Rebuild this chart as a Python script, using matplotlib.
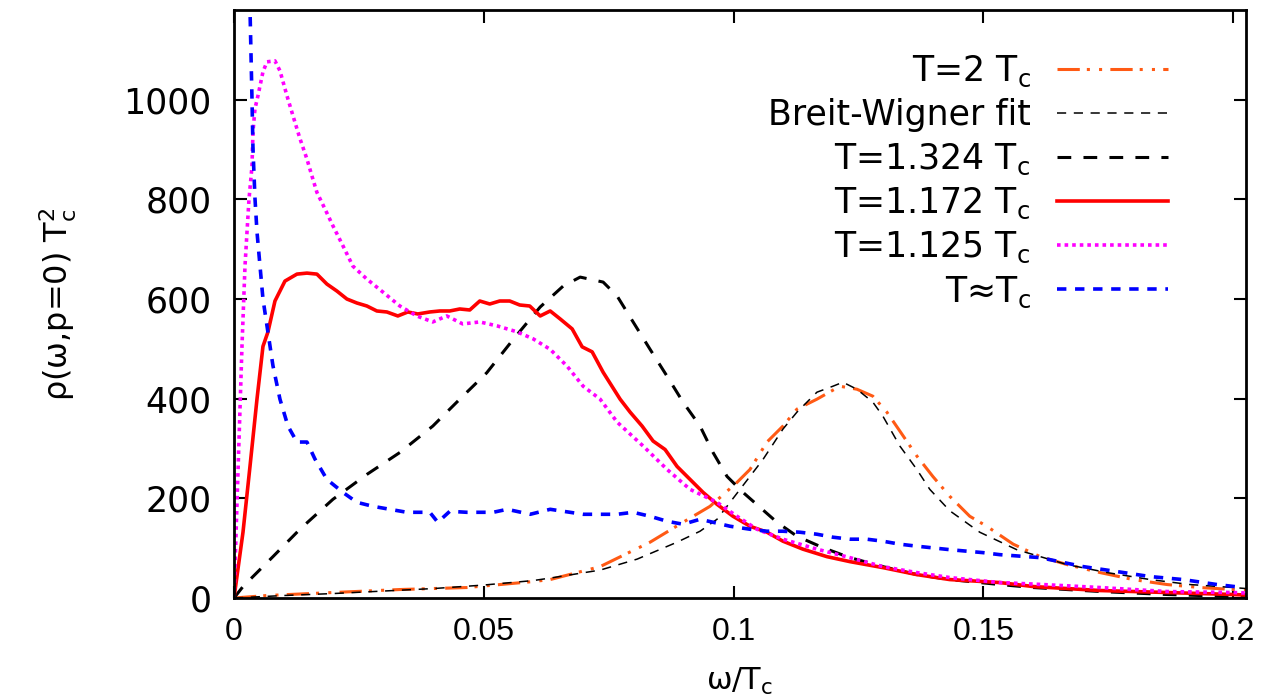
import matplotlib
matplotlib.use('Agg')
import matplotlib.pyplot as plt

# spectral functions (omega/Tc, rho*Tc^2)
w_2tc = [0, 0.0066, 0.0198, 0.0332, 0.0466, 0.0599, 0.0633, 0.0733, 0.0833, 0.0899,
         0.0953, 0.1007, 0.1033, 0.1067, 0.1099, 0.1127, 0.1167, 0.1213, 0.1247, 0.1279,
         0.1307, 0.1333, 0.1367, 0.1399, 0.1433, 0.1473, 0.1507, 0.156, 0.1614, 0.1668,
         0.1734, 0.18, 0.1868, 0.1934, 0.2, 0.2026]
rho_2tc = [0, 5, 11, 17, 21, 33, 37, 63, 112, 152,
           184, 232, 258, 313, 345, 379, 399, 425, 419, 405,
           373, 335, 285, 244, 204, 164, 144, 108, 83, 67,
           51, 37, 27, 21, 17, 16]

w_bw = [0, 0.01, 0.02, 0.03, 0.04, 0.05, 0.0599, 0.0633, 0.0733, 0.0807, 0.0887,
        0.0933, 0.0967, 0.1013, 0.1059, 0.1099, 0.1127, 0.1167, 0.1199, 0.1219,
        0.1247, 0.1279, 0.1299, 0.1333, 0.1367, 0.1393, 0.1433, 0.1493, 0.1567,
        0.1668, 0.1748, 0.1834, 0.1914, 0.2, 0.2026]
rho_bw = [0, 5, 9, 14, 19, 26, 35, 40, 56, 78, 112,
          134, 158, 218, 278, 339, 373, 413, 425, 433,
          419, 393, 365, 305, 258, 218, 175, 132, 97,
          67, 51, 37, 27, 21, 19]

w_1324 = [0, 0.0018, 0.0078, 0.0132, 0.0198, 0.0266, 0.0332, 0.0398, 0.0452, 0.0506,
          0.0559, 0.0613, 0.0659, 0.0693, 0.0739, 0.0767, 0.0799, 0.0833, 0.0867, 0.0899,
          0.0933, 0.0959, 0.0987, 0.1019, 0.1053, 0.1087, 0.1127, 0.1179, 0.1233, 0.1299,
          0.1367, 0.1433, 0.1533, 0.16, 0.1734, 0.1868, 0.2, 0.2026]
rho_1324 = [0, 23, 83, 138, 198, 248, 292, 345, 399, 452,
            519, 584, 626, 644, 634, 606, 554, 499, 445, 393,
            345, 292, 244, 212, 182, 152, 124, 101, 81, 63,
            47, 37, 27, 21, 13, 7, 3, 3]

w_1172 = [0, 0.0018, 0.0032, 0.0046, 0.0058, 0.0068, 0.0082, 0.0102, 0.0126, 0.0146,
          0.0166, 0.0186, 0.0206, 0.0226, 0.0246, 0.0266, 0.0286, 0.0306, 0.0328, 0.0348,
          0.0368, 0.0392, 0.0412, 0.0432, 0.0452, 0.0472, 0.0492, 0.0512, 0.0532, 0.0552,
          0.0572, 0.0592, 0.0613, 0.0633, 0.0653, 0.0677, 0.0697, 0.0717, 0.0739, 0.0773,
          0.0793, 0.0817, 0.0839, 0.0863, 0.0887, 0.0913, 0.0939, 0.0967, 0.0999, 0.1033,
          0.1067, 0.1099, 0.1139, 0.1187, 0.1233, 0.1299, 0.1367, 0.1433, 0.1533, 0.16,
          0.1734, 0.1868, 0.2, 0.2026]
rho_1172 = [0, 132, 264, 399, 505, 534, 596, 636, 650, 652,
            650, 630, 616, 600, 592, 586, 576, 574, 566, 574,
            570, 574, 576, 576, 580, 578, 596, 590, 596, 596,
            588, 586, 566, 576, 560, 540, 504, 494, 453, 399,
            373, 345, 315, 298, 264, 238, 212, 188, 164, 144,
            132, 114, 98, 83, 73, 61, 47, 37, 31, 23,
            15, 11, 7, 6]

w_1125 = [0, 0.0016, 0.0022, 0.0026, 0.003, 0.0036, 0.0038, 0.0042, 0.0048, 0.0058,
          0.0066, 0.0082, 0.0092, 0.0106, 0.0118, 0.0132, 0.0146, 0.0156, 0.0166, 0.0182,
          0.0198, 0.0218, 0.0238, 0.0266, 0.0298, 0.0332, 0.0366, 0.0398, 0.0426, 0.0458,
          0.0492, 0.0527, 0.0567, 0.0599, 0.0633, 0.0667, 0.0699, 0.0733, 0.0767, 0.0819,
          0.0867, 0.0913, 0.0967, 0.1007, 0.1047, 0.1099, 0.1167, 0.1233, 0.1299, 0.1367,
          0.1433, 0.1533, 0.16, 0.1734, 0.1868, 0.2, 0.2026]
rho_1125 = [0, 506, 666, 734, 800, 866, 936, 982, 1008, 1056,
            1076, 1078, 1058, 1008, 968, 922, 881, 847, 814, 781,
            747, 707, 666, 640, 614, 586, 566, 554, 566, 550,
            554, 546, 534, 520, 499, 465, 425, 399, 353, 305,
            258, 218, 192, 164, 138, 118, 98, 81, 63, 51,
            41, 31, 28, 21, 13, 11, 10]

w_tc = [0.0025, 0.0032, 0.0036, 0.0038, 0.0042, 0.0046, 0.0052, 0.0058, 0.0068, 0.0078,
        0.0092, 0.0108, 0.0126, 0.0146, 0.0162, 0.0186, 0.0218, 0.0246, 0.0278, 0.0312,
        0.0346, 0.0392, 0.0408, 0.0432, 0.0466, 0.0498, 0.0519, 0.0547, 0.0593, 0.0633,
        0.0699, 0.0767, 0.0799, 0.0833, 0.0867, 0.0899, 0.0933, 0.0959, 0.0993, 0.1033,
        0.1067, 0.1099, 0.1133, 0.1167, 0.1199, 0.1233, 0.1267, 0.1299, 0.1333, 0.1367,
        0.1433, 0.15, 0.1533, 0.1614, 0.170, 0.1768, 0.1834, 0.19, 0.1968, 0.202]
rho_tc = [1400, 1183, 1002, 901, 802, 735, 667, 600, 533, 466,
          399, 345, 313, 313, 279, 238, 212, 192, 184, 178,
          172, 172, 152, 174, 172, 172, 172, 178, 168, 178,
          168, 168, 172, 164, 154, 148, 158, 152, 144, 138,
          134, 134, 132, 128, 122, 118, 118, 114, 108, 104,
          97, 91, 87, 81, 63, 53, 43, 37, 27, 21]

xticks = [0, 0.05, 0.1, 0.15, 0.2]
xtick_labels = ['0', '0.05', '0.1', '0.15', '0.2']
yticks = [0, 200, 400, 600, 800, 1000]

plt.rcParams['font.family'] = ['DejaVu Sans']

fig = plt.figure(figsize=(12.69, 6.99), dpi=100)
ax = fig.add_axes([234 / 1269, 1 - 598 / 699, 1012 / 1269, 588 / 699])

ax.plot(w_2tc, rho_2tc, color='#ff5a14', lw=2.2, dashes=(7.3, 2.3, 1, 3, 1, 2.7),
        label=r'T=2 T$_\mathregular{c}$')
ax.plot(w_bw, rho_bw, color='black', lw=1.1, dashes=(6, 5),
        label='Breit-Wigner fit')
ax.plot(w_1324, rho_1324, color='black', lw=2.2, dashes=(4.5, 4),
        label=r'T=1.324 T$_\mathregular{c}$')
ax.plot(w_1172, rho_1172, color='#ff0000', lw=2.6,
        label=r'T=1.172 T$_\mathregular{c}$')
ax.plot(w_1125, rho_1125, color='#ff00ff', lw=2.6, dashes=(1, 1.1),
        dash_capstyle='butt', label=r'T=1.125 T$_\mathregular{c}$')
ax.plot(w_tc, rho_tc, color='#0000ff', lw=2.6, dashes=(2.6, 2.4),
        label=r'T≈T$_\mathregular{c}$')

ax.set_xlim(0, 0.2026)
ax.set_ylim(0, 1180)
ax.set_xticks(xticks)
ax.set_xticklabels(xtick_labels, fontfamily='Liberation Sans', fontsize=23)
ax.set_yticks(yticks)
ax.tick_params(axis='y', labelsize=25)
ax.tick_params(direction='in', length=9, width=1.5, top=True, right=True)
ax.tick_params(axis='y', pad=16)
ax.tick_params(axis='x', pad=14)
for s in ax.spines.values():
    s.set_linewidth(2)

ax.set_xlabel(r'ω/T$_\mathregular{c}$', fontsize=22, va='baseline')
ax.xaxis.set_label_coords(0.5, -(690 - 598) / 588)
ax.set_ylabel(r'ρ(ω,p=0) T$_\mathregular{c}^\mathregular{2}$', fontsize=23, va='center')
ax.yaxis.set_label_coords((58 - 234) / 1012, 0.5)

leg = ax.legend(loc='upper right', bbox_to_anchor=((1168 - 234) / 1012, (598 - 54) / 588),
                frameon=False, markerfirst=False, fontsize=25, handlelength=3.2,
                handletextpad=0.75, labelspacing=0.26, borderpad=0, borderaxespad=0)
for t in leg.get_texts():
    t.set_ha('right')

fig.savefig('out.png', dpi=100)
